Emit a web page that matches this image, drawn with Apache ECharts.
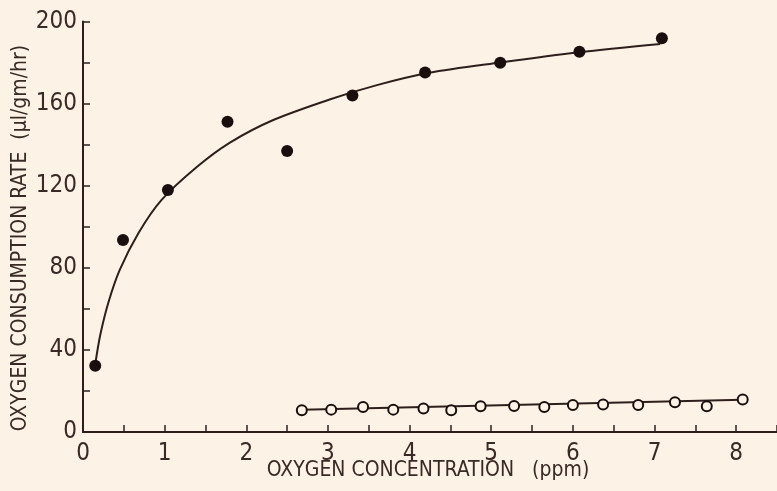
<!DOCTYPE html>
<html>
<head>
<meta charset="utf-8">
<script src="https://cdn.jsdelivr.net/npm/echarts@6/dist/echarts.min.js"></script>
<style>
html,body{margin:0;padding:0;background:#fcf2e5;}
#c{width:777px;height:491px;}
</style>
</head>
<body>
<div id="c"></div>
<script>
// Filled circles (measured data)
const filledPoints = [
  [0.15, 32.3], [0.49, 93.5], [1.04, 117.9], [1.77, 151.2], [2.50, 136.9],
  [3.30, 163.9], [4.19, 175.1], [5.11, 179.9], [6.08, 185.3], [7.09, 191.8]
];
// Hand-drawn fitted curve through filled circles
const filledCurve = [
  [0.15, 33], [0.21, 47], [0.31, 63], [0.45, 79], [0.68, 97], [0.96, 113],
  [1.39, 129], [1.80, 141], [2.33, 152], [3.02, 162], [3.60, 169],
  [4.24, 175], [5.11, 180], [6.08, 185], [7.07, 189]
];
// Open circles (measured data)
const openPoints = [
  [2.68, 10.6], [3.04, 10.9], [3.43, 12.2], [3.80, 10.9], [4.17, 11.4],
  [4.51, 10.6], [4.87, 12.6], [5.28, 12.7], [5.65, 12.2], [6.00, 13.1],
  [6.37, 13.4], [6.80, 13.1], [7.25, 14.5], [7.64, 12.6], [8.08, 15.8]
];
// Fitted line through open circles
const openLine = [[2.68, 10.8], [8.08, 15.7]];

const xTitle = 'OXYGEN CONCENTRATION   (ppm)';
const yTitle = 'OXYGEN CONSUMPTION RATE  (µl/gm/hr)';

const ink = '#2e1f1c';
const txt = '#3a2a26';
const bg = '#fcf2e5';
const font = '"DejaVu Sans Condensed", "Liberation Sans Narrow", "Roboto Condensed", sans-serif';

const chart = echarts.init(document.getElementById('c'));
chart.setOption({
  backgroundColor: bg,
  animation: false,
  grid: { left: 83, top: 21.5, right: -1, bottom: 59, containLabel: false },
  xAxis: {
    type: 'value', min: 0, max: 8.5, interval: 1,
    axisLine: { show: true, onZero: false, lineStyle: { color: ink, width: 2 } },
    axisTick: { show: true, inside: true, length: 7, lineStyle: { color: ink, width: 1.5 } },
    minorTick: { show: true, splitNumber: 2, length: 7, lineStyle: { color: ink, width: 1.5 } },
    splitLine: { show: false },
    axisLabel: {
      color: txt, fontFamily: font, fontSize: 24, margin: 10,
      showMaxLabel: false,
      formatter: v => (Number.isInteger(v) ? String(v) : '')
    }
  },
  yAxis: {
    type: 'value', min: 0, max: 200, interval: 40,
    axisLine: { show: true, lineStyle: { color: ink, width: 2 } },
    axisTick: { show: true, inside: true, length: 7, lineStyle: { color: ink, width: 1.5 } },
    minorTick: { show: true, splitNumber: 2, length: 7, lineStyle: { color: ink, width: 1.5 } },
    splitLine: { show: false },
    axisLabel: { color: txt, fontFamily: font, fontSize: 24, margin: 6 }
  },
  graphic: [
    {
      type: 'text', x: 21, y: 238, rotation: Math.PI / 2,
      style: { text: yTitle, fill: txt, fontFamily: font, fontSize: 21, align: 'center', verticalAlign: 'middle' }
    },
    {
      type: 'text', x: 428, y: 471,
      style: { text: xTitle, fill: txt, fontFamily: font, fontSize: 21, align: 'center', verticalAlign: 'middle' }
    }
  ],
  series: [
    {
      type: 'line', data: filledCurve, smooth: 0.3, showSymbol: false, symbol: 'none',
      lineStyle: { color: ink, width: 2 }, z: 2
    },
    {
      type: 'scatter', data: filledPoints, symbol: 'circle', symbolSize: 12,
      itemStyle: { color: '#1a0f0e', opacity: 1 }, z: 3
    },
    {
      type: 'line', data: openLine, showSymbol: false, symbol: 'none',
      lineStyle: { color: ink, width: 2 }, z: 2
    },
    {
      type: 'scatter', data: openPoints, symbol: 'circle', symbolSize: 10,
      itemStyle: { color: bg, borderColor: '#1a0f0e', borderWidth: 2, opacity: 1 }, z: 3
    }
  ]
});
</script>
</body>
</html>
